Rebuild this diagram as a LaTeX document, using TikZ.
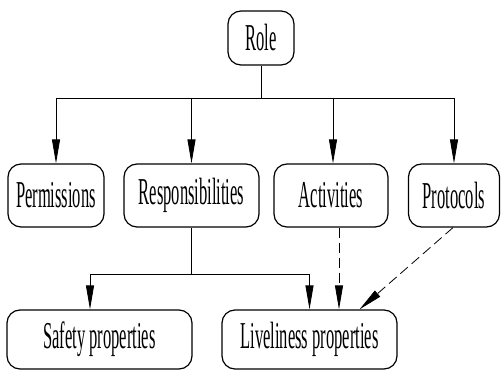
\documentclass[tikz,border=0pt]{standalone}
\usepackage{fontspec}
\setmainfont{Liberation Serif}[FakeStretch=0.435]
\usetikzlibrary{arrows.meta}
\begin{document}
\begin{tikzpicture}[x=1pt,y=-1pt,
  box/.style={draw, line width=1.2pt, rounded corners=13pt, inner sep=0pt,
    font=\fontsize{38}{42}\selectfont},
  link/.style={line width=0.8pt, -{Triangle[length=24pt,width=8pt]}},
  dlink/.style={link, dash pattern=on 10pt off 5pt}]
\useasboundingbox (0,0) rectangle (501,371);
% top node
\node[box, minimum width=66pt, minimum height=54pt] (role) at (261,38) {Role};
% second row
\node[box, minimum width=96pt, minimum height=63pt] (perm) at (56,195.5) {Permissions};
\node[box, minimum width=135pt, minimum height=63pt] (resp) at (191.5,195.5) {Responsibilities};
\node[box, minimum width=114pt, minimum height=63pt] (act) at (331,195.5) {Activities};
\node[box, minimum width=91pt, minimum height=63pt] (prot) at (454,195.5) {Protocols};
% third row
\node[box, minimum width=185pt, minimum height=59pt] (safe) at (99.5,339.5) {Safety properties};
\node[box, minimum width=175pt, minimum height=59pt] (live) at (309.5,339.5) {Liveliness properties};
% tree from the role
\draw[line width=0.8pt] (role.south) -- ++(0,33) coordinate (bus);
\draw[link] (bus) -| (perm.north);
\draw[link] (bus) -| (resp.north);
\draw[link] (bus) -| ([xshift=2pt]act.north);
\draw[link] (bus) -| (prot.north);
% responsibilities split into properties
\draw[line width=0.8pt] (resp.south) -- ++(0,47) coordinate (split);
\draw[link] (split) -| ([xshift=-9.5pt]safe.north);
\draw[link] (split) -| (live.north);
% dashed relations
\draw[dlink] ([xshift=8pt]act.south) -- ([xshift=8pt]act.south |- live.north);
\draw[dlink] ([xshift=-1pt]prot.south) -- ([xshift=50pt]live.north);
\end{tikzpicture}
\end{document}
